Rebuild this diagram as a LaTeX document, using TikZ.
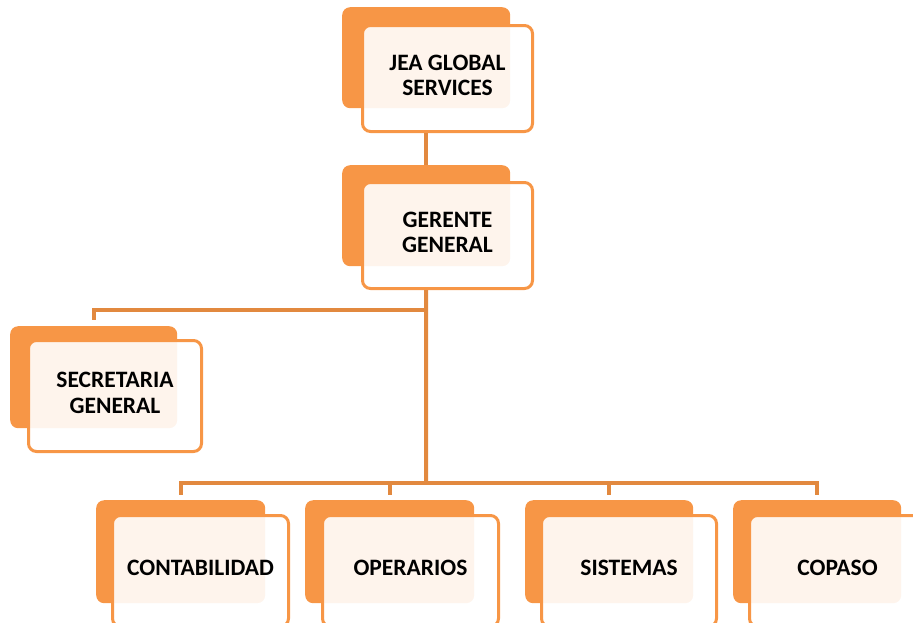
\documentclass[tikz,border=0pt]{standalone}
\usepackage{fontspec}
\setmainfont{Carlito}
\definecolor{orgorange}{HTML}{F79646}
\definecolor{lineorange}{HTML}{E2893F}
\tikzset{
  backbox/.style={rectangle, rounded corners=8pt, fill=orgorange, draw=none, anchor=north west, inner sep=0pt},
  frontbox/.style={rectangle, rounded corners=8pt, draw=orgorange, line width=3pt, fill=white, fill opacity=0.9, text opacity=1, anchor=north west, inner sep=0pt, align=center, font=\fontsize{23.5}{25.5}\selectfont\bfseries, execute at end node={\rule[-6pt]{0pt}{6pt}}},
  conn/.style={draw=lineorange, line width=4pt},
}
\begin{document}
\begin{tikzpicture}[x=1pt,y=-1pt]
\useasboundingbox (0,0) rectangle (913,622);
% top
\node[backbox, minimum width=168pt, minimum height=101pt] (jeab) at (342,7) {};
\node[frontbox, minimum width=170pt, minimum height=106pt] (jea) at (361,24) {JEA GLOBAL\\SERVICES};
\node[backbox, minimum width=168pt, minimum height=101pt] (gerb) at (342,165) {};
\node[frontbox, minimum width=170pt, minimum height=106pt] (ger) at (361,181) {GERENTE\\GENERAL};
\node[backbox, minimum width=167pt, minimum height=102pt] (secb) at (10,326) {};
\node[frontbox, minimum width=173pt, minimum height=111pt] (sec) at (27,339) {SECRETARIA\\GENERAL};
% bottom row
\node[backbox, minimum width=169pt, minimum height=103pt] (conb) at (96,500) {};
\node[frontbox, minimum width=176pt, minimum height=111pt] (con) at (111,514) {CONTABILIDAD};
\node[backbox, minimum width=169pt, minimum height=103pt] (opb) at (305,500) {};
\node[frontbox, minimum width=176pt, minimum height=111pt] (op) at (321,514) {OPERARIOS};
\node[backbox, minimum width=168pt, minimum height=103pt] (sisb) at (525,500) {};
\node[frontbox, minimum width=175pt, minimum height=111pt] (sis) at (540,514) {SISTEMAS};
\node[backbox, minimum width=168pt, minimum height=103pt] (copb) at (733,500) {};
\node[frontbox, minimum width=176pt, minimum height=111pt] (cop) at (748,514) {COPASO};
% connectors
\coordinate (h1) at (426,310);
\coordinate (h2) at (426,483);
\draw[conn] (jeab.center |- jea.south) -- (gerb.north);
\draw[conn] (gerb.center |- ger.south) -- (h2);
\draw[conn, shorten >=6pt] (h1) -| (secb.north);
\draw[conn, shorten >=5pt] (h2) -| (conb.north);
\draw[conn, shorten >=5pt] (h2) -| (opb.north);
\draw[conn, shorten >=5pt] (h2) -| (sisb.north);
\draw[conn, shorten >=5pt] (h2) -| (copb.north);
\end{tikzpicture}
\end{document}
